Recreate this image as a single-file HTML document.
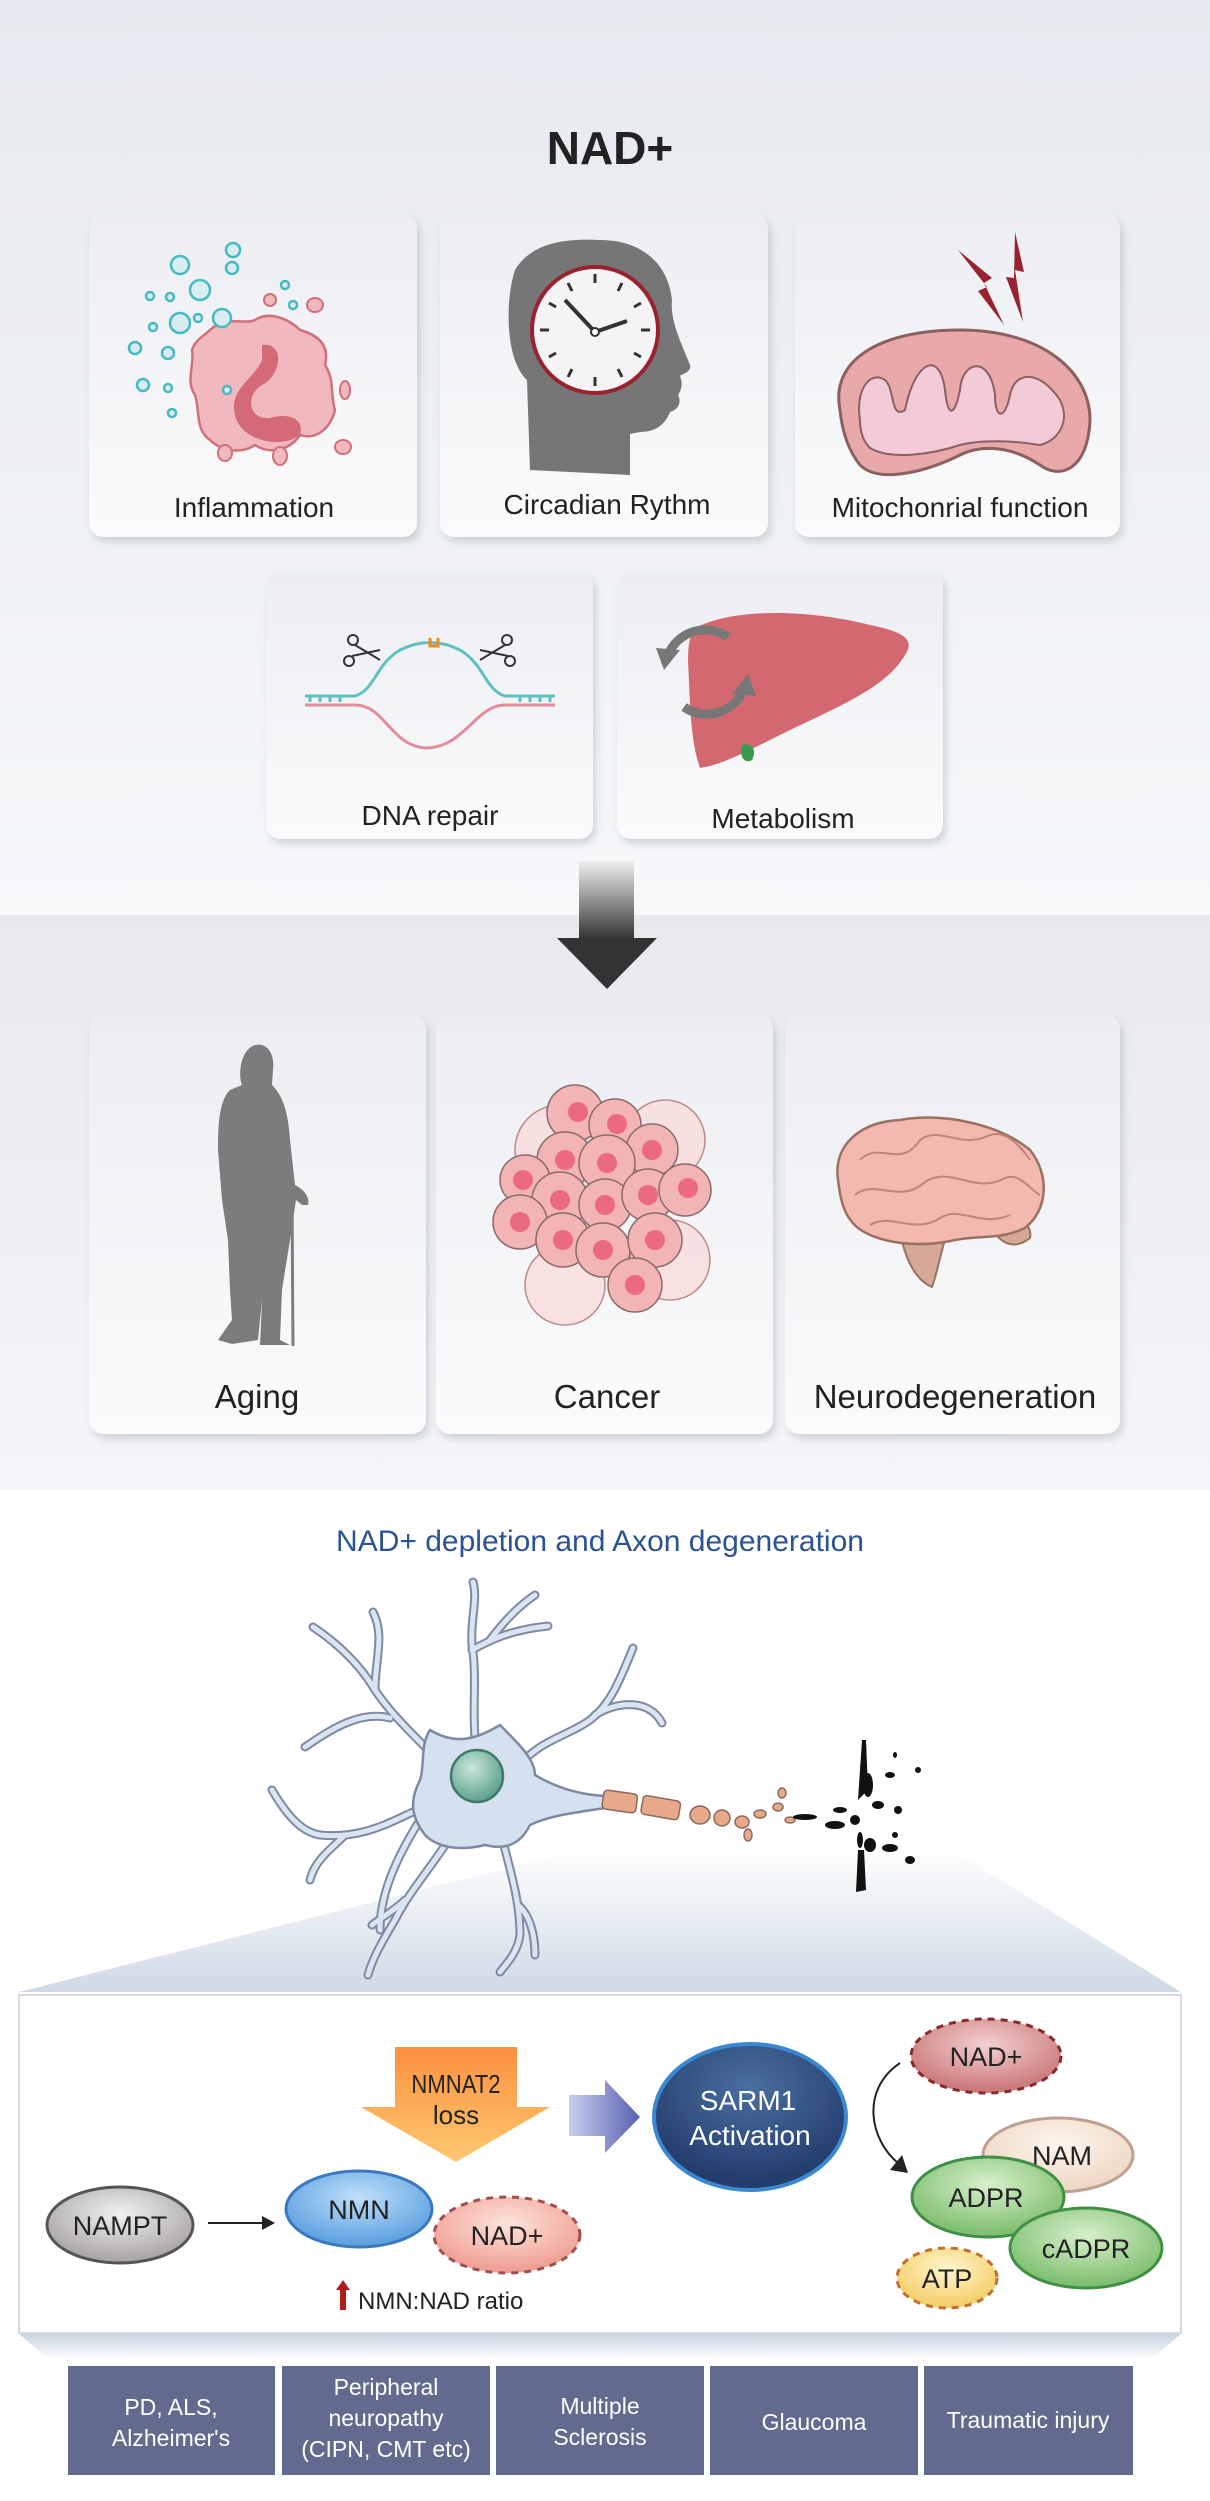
<!DOCTYPE html>
<html><head><meta charset="utf-8"><style>
html,body{margin:0;padding:0;background:#fff}
svg{display:block}
text{font-family:"Liberation Sans",Arial,sans-serif}
</style></head><body>
<svg width="1210" height="2501" viewBox="0 0 1210 2501" xmlns="http://www.w3.org/2000/svg">
<defs>
<linearGradient id="bg1" x1="0" y1="0" x2="0" y2="1"><stop offset="0" stop-color="#e6e9ef"/><stop offset="1" stop-color="#f6f8fa"/></linearGradient>
<linearGradient id="bg2" x1="0" y1="0" x2="0" y2="1"><stop offset="0" stop-color="#e7e9ee"/><stop offset="1" stop-color="#f5f6f9"/></linearGradient>
<linearGradient id="card" x1="0" y1="0" x2="0" y2="1"><stop offset="0" stop-color="#eceef2"/><stop offset="1" stop-color="#fbfbfc"/></linearGradient>
<linearGradient id="stem" x1="0" y1="0" x2="0" y2="1"><stop offset="0" stop-color="#f0f0f0"/><stop offset="1" stop-color="#333"/></linearGradient>
<linearGradient id="trap" x1="0" y1="0" x2="0" y2="1"><stop offset="0" stop-color="#ffffff"/><stop offset="1" stop-color="#cfdae6"/></linearGradient>
<linearGradient id="trap2" x1="0" y1="0" x2="0" y2="1"><stop offset="0" stop-color="#c8d4e0"/><stop offset="1" stop-color="#ffffff"/></linearGradient>
<linearGradient id="orng" x1="0" y1="0" x2="0" y2="1"><stop offset="0" stop-color="#fb9040"/><stop offset="1" stop-color="#fdc870"/></linearGradient>
<linearGradient id="blu" x1="0" y1="0" x2="1" y2="0"><stop offset="0" stop-color="#c8cdf0"/><stop offset="1" stop-color="#5860b0"/></linearGradient>
<radialGradient id="gGray" cx=".5" cy=".35" r=".6"><stop offset="0" stop-color="#f2f0f2"/><stop offset="1" stop-color="#aaa6aa"/></radialGradient>
<radialGradient id="gBlue" cx=".5" cy=".35" r=".6"><stop offset="0" stop-color="#bfe0fa"/><stop offset="1" stop-color="#5fa2e0"/></radialGradient>
<radialGradient id="gPink" cx=".5" cy=".35" r=".6"><stop offset="0" stop-color="#fde4dc"/><stop offset="1" stop-color="#f0a094"/></radialGradient>
<radialGradient id="gRed" cx=".5" cy=".35" r=".6"><stop offset="0" stop-color="#f3d0d0"/><stop offset="1" stop-color="#cc7a7c"/></radialGradient>
<radialGradient id="gNam" cx=".5" cy=".35" r=".6"><stop offset="0" stop-color="#fdf6ee"/><stop offset="1" stop-color="#eed8c4"/></radialGradient>
<radialGradient id="gGreen" cx=".5" cy=".35" r=".6"><stop offset="0" stop-color="#d8f0cc"/><stop offset="1" stop-color="#80c070"/></radialGradient>
<radialGradient id="gYel" cx=".5" cy=".35" r=".6"><stop offset="0" stop-color="#fff6d0"/><stop offset="1" stop-color="#f4cf6a"/></radialGradient>
<radialGradient id="gSarm" cx=".5" cy=".3" r=".65"><stop offset="0" stop-color="#4a6fa0"/><stop offset="1" stop-color="#233c6c"/></radialGradient>
<radialGradient id="gNuc" cx=".4" cy=".35" r=".65"><stop offset="0" stop-color="#c8e8dc"/><stop offset="1" stop-color="#5fa08c"/></radialGradient>
<filter id="sh" x="-10%" y="-10%" width="125%" height="125%"><feDropShadow dx="3" dy="5" stdDeviation="4" flood-color="#8890a0" flood-opacity=".35"/></filter>
</defs>

<rect x="0" y="0" width="1210" height="915" fill="url(#bg1)"/>
<rect x="0" y="915" width="1210" height="575" fill="url(#bg2)"/>

<text x="610" y="164" font-size="46" font-weight="bold" text-anchor="middle" fill="#222">NAD+</text>

<g filter="url(#sh)">
<rect x="89" y="214" width="328" height="323" rx="14" fill="url(#card)"/>
<rect x="440" y="214" width="328" height="323" rx="14" fill="url(#card)"/>
<rect x="795" y="214" width="325" height="323" rx="14" fill="url(#card)"/>
<rect x="266" y="571" width="327" height="268" rx="14" fill="url(#card)"/>
<rect x="617" y="571" width="326" height="268" rx="14" fill="url(#card)"/>
<rect x="89" y="1015" width="337" height="419" rx="14" fill="url(#card)"/>
<rect x="436" y="1015" width="337" height="419" rx="14" fill="url(#card)"/>
<rect x="785" y="1015" width="335" height="419" rx="14" fill="url(#card)"/>
</g>
<g font-size="28" text-anchor="middle" fill="#222">
<text x="254" y="517">Inflammation</text>
<text x="607" y="514">Circadian Rythm</text>
<text x="960" y="517">Mitochonrial function</text>
<text x="430" y="825">DNA repair</text>
<text x="783" y="828">Metabolism</text>
<text x="257" y="1408" font-size="33">Aging</text>
<text x="607" y="1408" font-size="33">Cancer</text>
<text x="955" y="1408" font-size="33">Neurodegeneration</text>
</g>

<!-- inflammation icon -->
<path d="M210,330 C225,315 245,325 255,320 C270,310 290,320 300,330 C318,335 330,345 325,365 C335,380 330,395 335,410 C330,430 315,440 300,435 C290,450 270,455 255,445 C240,455 220,450 210,440 C195,430 200,410 195,395 C185,380 195,365 192,350 C195,340 205,335 210,330Z" fill="#f1b8bd" stroke="#d0707a" stroke-width="2.5"/>
<path d="M262,345 C285,342 282,375 262,385 C245,395 248,420 270,418 C290,412 305,420 300,435 C280,450 240,440 235,415 C228,390 255,378 262,360Z" fill="#d46a78"/>
<g fill="#d9ecef" stroke="#46bac0" stroke-width="2.5">
<circle cx="180" cy="265" r="9"/><circle cx="233" cy="250" r="7"/><circle cx="232" cy="268" r="6"/><circle cx="200" cy="290" r="10"/>
<circle cx="150" cy="296" r="4"/><circle cx="170" cy="297" r="4"/><circle cx="180" cy="323" r="10"/><circle cx="222" cy="318" r="9"/>
<circle cx="198" cy="318" r="4"/><circle cx="153" cy="327" r="4"/><circle cx="135" cy="348" r="6"/><circle cx="168" cy="353" r="6"/>
<circle cx="143" cy="385" r="6"/><circle cx="168" cy="388" r="4"/><circle cx="172" cy="413" r="4"/><circle cx="285" cy="285" r="4"/><circle cx="293" cy="305" r="4"/><circle cx="227" cy="390" r="4"/>
</g>
<g fill="#f1b8bd" stroke="#d0707a" stroke-width="2"><ellipse cx="315" cy="305" rx="8" ry="7"/><circle cx="270" cy="300" r="6"/><ellipse cx="345" cy="390" rx="5" ry="9"/><ellipse cx="343" cy="447" rx="8" ry="7"/><ellipse cx="280" cy="456" rx="7" ry="9"/><ellipse cx="225" cy="453" rx="7" ry="8"/></g>

<!-- circadian head -->
<path d="M530,470 L527,380 C505,360 505,300 515,270 C530,245 560,238 600,240 C640,240 668,262 672,300 C670,320 680,340 690,365 C692,372 682,374 680,376 C684,385 680,392 678,395 C682,402 678,410 670,412 C665,425 655,432 640,432 L630,434 L630,475Z" fill="#767676"/>
<circle cx="595" cy="330" r="63" fill="#f4f4f6" stroke="#9a2230" stroke-width="4"/>
<g stroke="#333" stroke-width="3"><line x1="595" y1="274" x2="595" y2="283"/><line x1="595" y1="377" x2="595" y2="386"/><line x1="540" y1="330" x2="549" y2="330"/><line x1="641" y1="330" x2="650" y2="330"/><line x1="568" y1="283" x2="572" y2="291"/><line x1="622" y1="283" x2="618" y2="291"/><line x1="568" y1="377" x2="572" y2="369"/><line x1="622" y1="377" x2="618" y2="369"/><line x1="549" y1="303" x2="556" y2="307"/><line x1="641" y1="357" x2="634" y2="353"/><line x1="549" y1="357" x2="556" y2="353"/><line x1="641" y1="303" x2="634" y2="307"/></g>
<line x1="595" y1="332" x2="565" y2="300" stroke="#333" stroke-width="4"/><line x1="595" y1="332" x2="627" y2="321" stroke="#333" stroke-width="4"/><circle cx="595" cy="332" r="4" fill="#fff" stroke="#333" stroke-width="2"/>

<!-- mitochondria -->
<polygon points="958,250 992,278 984,283 1004,325 978,291 987,287" fill="#9a2230"/>
<polygon points="1015,232 1024,272 1015,270 1023,322 1006,277 1014,278" fill="#9a2230"/>
<path d="M840,410 C830,360 880,330 960,330 C1040,330 1090,370 1090,420 C1088,470 1060,480 1040,465 C1010,445 980,445 960,455 C930,470 880,485 860,465 C848,450 842,430 840,410Z" fill="#e9a8aa" stroke="#8a6060" stroke-width="3"/>
<path d="M860,420 C855,390 870,370 885,380 C895,388 890,420 905,410 C915,360 940,350 945,390 C948,420 955,415 960,390 C962,360 990,355 995,395 C995,420 1005,420 1010,395 C1015,370 1040,370 1060,400 C1070,420 1060,440 1040,445 C1010,440 980,440 960,445 C930,455 890,460 870,448 C862,440 860,430 860,420Z" fill="#f2cad8" stroke="#8a6060" stroke-width="2"/>

<!-- DNA -->
<g stroke-width="3" fill="none">
<path d="M305,696 L355,696 C375,690 375,665 400,650 C420,640 440,640 460,650 C485,665 485,690 505,696 L555,696" stroke="#5ec1c0"/>
<path d="M305,705 L355,705 C385,705 390,745 425,748 C465,748 475,705 505,705 L555,705" stroke="#e38c9c"/>
<g stroke="#5ec1c0"><line x1="310" y1="696" x2="310" y2="702"/><line x1="320" y1="696" x2="320" y2="702"/><line x1="330" y1="696" x2="330" y2="702"/><line x1="340" y1="696" x2="340" y2="702"/><line x1="520" y1="696" x2="520" y2="702"/><line x1="530" y1="696" x2="530" y2="702"/><line x1="540" y1="696" x2="540" y2="702"/><line x1="550" y1="696" x2="550" y2="702"/></g>
<path d="M430,638 L430,646 L438,646 L438,638" stroke="#f08a20"/>
</g>
<circle cx="353" cy="640" r="5" fill="none" stroke="#333" stroke-width="2"/><circle cx="349" cy="661" r="5" fill="none" stroke="#333" stroke-width="2"/><path d="M355,645 L380,660 M352,656 L380,650" stroke="#333" stroke-width="2"/>
<circle cx="507" cy="640" r="5" fill="none" stroke="#333" stroke-width="2"/><circle cx="510" cy="661" r="5" fill="none" stroke="#333" stroke-width="2"/><path d="M505,645 L480,660 M508,656 L480,650" stroke="#333" stroke-width="2"/>

<!-- liver -->
<path d="M695,628 C740,605 820,612 870,625 C905,632 915,640 905,655 C885,690 830,710 780,735 C740,755 720,765 700,768 C690,740 690,700 688,660 C688,645 690,635 695,628Z" fill="#d46870"/>
<path d="M742,745 C750,742 758,748 752,760 C745,765 738,755 742,745Z" fill="#3a9a50"/>
<g fill="none" stroke="#777" stroke-width="9">
<path d="M728,637 A40,40 0 0 0 668,655"/>
<path d="M684,707 A40,40 0 0 0 744,689"/>
</g>
<path d="M656,648 L680,650 L664,670Z" fill="#777"/><path d="M756,696 L732,694 L748,674Z" fill="#777"/>

<!-- big arrow -->
<rect x="579" y="861" width="55" height="78" fill="url(#stem)"/>
<path d="M557,938 L657,938 L607,989Z" fill="#333"/>

<!-- aging silhouette -->
<path d="M255,1045 C268,1042 275,1055 273,1070 L272,1085 C282,1095 288,1110 290,1140 L295,1185 C305,1190 310,1198 308,1205 L302,1205 L296,1200 L290,1240 L282,1290 L280,1340 L290,1345 L260,1345 L262,1300 L258,1340 L232,1344 L218,1340 L232,1320 L230,1290 L228,1240 L222,1200 L218,1150 C218,1120 220,1100 230,1090 L242,1085 C238,1075 240,1050 255,1045Z" fill="#7c7c7c"/>
<line x1="292" y1="1200" x2="293" y2="1346" stroke="#7c7c7c" stroke-width="3"/>

<!-- cancer cluster -->
<g stroke="#b07070" stroke-width="1.5">
<circle cx="560" cy="1150" r="45" fill="#f8dcdc" opacity=".8"/><circle cx="665" cy="1140" r="40" fill="#f8dcdc" opacity=".8"/><circle cx="670" cy="1260" r="40" fill="#f8dcdc" opacity=".8"/><circle cx="565" cy="1285" r="40" fill="#f8dcdc" opacity=".8"/>
</g>
<g fill="#f2b4b4" stroke="#8a6a6a" stroke-width="1.5">
<circle cx="575" cy="1113" r="28"/><circle cx="615" cy="1125" r="26"/><circle cx="652" cy="1150" r="26"/><circle cx="565" cy="1160" r="28"/><circle cx="607" cy="1163" r="28"/>
<circle cx="525" cy="1180" r="25"/><circle cx="560" cy="1200" r="28"/><circle cx="605" cy="1205" r="26"/><circle cx="648" cy="1195" r="26"/><circle cx="685" cy="1190" r="26"/>
<circle cx="520" cy="1222" r="27"/><circle cx="563" cy="1240" r="27"/><circle cx="603" cy="1250" r="27"/><circle cx="655" cy="1240" r="27"/><circle cx="635" cy="1285" r="27"/>
</g>
<g fill="#ec6a80"><circle cx="578" cy="1112" r="10"/><circle cx="617" cy="1124" r="10"/><circle cx="652" cy="1150" r="10"/><circle cx="565" cy="1160" r="10"/><circle cx="607" cy="1163" r="10"/><circle cx="523" cy="1180" r="10"/><circle cx="560" cy="1200" r="10"/><circle cx="605" cy="1205" r="10"/><circle cx="648" cy="1195" r="10"/><circle cx="688" cy="1188" r="10"/><circle cx="520" cy="1222" r="10"/><circle cx="563" cy="1240" r="10"/><circle cx="603" cy="1250" r="10"/><circle cx="655" cy="1240" r="10"/><circle cx="635" cy="1285" r="10"/></g>

<!-- brain -->
<path d="M900,1232 C905,1258 915,1280 932,1287 C938,1270 940,1255 945,1240Z" fill="#d6a896" stroke="#9a7060" stroke-width="2"/>
<path d="M990,1225 C1000,1245 1015,1250 1030,1238 C1032,1228 1025,1220 1015,1218Z" fill="#d6a896" stroke="#9a7060" stroke-width="2"/>
<path d="M838,1180 C833,1145 860,1122 900,1120 C945,1112 1000,1125 1030,1150 C1050,1175 1048,1210 1025,1228 C1000,1240 980,1235 955,1240 C920,1248 880,1244 858,1228 C842,1215 840,1195 838,1180Z" fill="#f3b8b0" stroke="#9a7060" stroke-width="2.5"/>
<g fill="none" stroke="#c0847a" stroke-width="2"><path d="M860,1160 C880,1140 900,1170 920,1140 C940,1125 960,1150 990,1135 C1005,1130 1020,1145 1030,1160"/><path d="M855,1195 C875,1178 900,1205 925,1182 C950,1165 975,1195 1005,1178 C1020,1172 1030,1190 1040,1195"/><path d="M870,1225 C890,1212 915,1235 940,1218 C960,1205 980,1228 1010,1215"/></g>

<!-- lower section -->
<text x="600" y="1551" font-size="30" text-anchor="middle" fill="#2b5391">NAD+ depletion and Axon degeneration</text>

<path d="M586,1848 L949,1848 L1181,1992 L19,1992Z" fill="url(#trap)"/>

<g fill="none" stroke-linecap="round" stroke-linejoin="round">
<g stroke="#7e8aa2" stroke-width="9">
<path d="M478,1760 C470,1720 478,1680 472,1645 C470,1620 478,1600 473,1582"/>
<path d="M472,1650 C490,1640 510,1630 548,1626"/><path d="M490,1640 C505,1620 520,1605 535,1595"/>
<path d="M445,1768 C420,1740 395,1720 375,1690 C360,1665 340,1645 313,1627"/>
<path d="M375,1690 C375,1660 385,1635 373,1612"/><path d="M390,1718 C360,1710 330,1730 305,1747"/>
<path d="M520,1765 C540,1740 570,1735 590,1720 C610,1705 620,1680 633,1648"/><path d="M595,1715 C620,1700 650,1700 662,1723"/>
<path d="M430,1805 C400,1815 370,1840 320,1835 C300,1832 285,1812 272,1790"/><path d="M345,1835 C330,1850 315,1860 310,1880"/>
<path d="M455,1830 C430,1870 410,1890 395,1920 C380,1945 372,1960 368,1975"/><path d="M405,1900 C395,1910 385,1915 372,1925"/>
<path d="M500,1830 C510,1870 520,1900 520,1935 C518,1950 510,1960 500,1972"/><path d="M518,1905 C530,1915 535,1935 535,1955"/>
<path d="M420,1820 C395,1860 380,1895 380,1930"/>
</g>
<g stroke="#dbe4f1" stroke-width="5">
<path d="M478,1760 C470,1720 478,1680 472,1645 C470,1620 478,1600 473,1582"/>
<path d="M472,1650 C490,1640 510,1630 548,1626"/><path d="M490,1640 C505,1620 520,1605 535,1595"/>
<path d="M445,1768 C420,1740 395,1720 375,1690 C360,1665 340,1645 313,1627"/>
<path d="M375,1690 C375,1660 385,1635 373,1612"/><path d="M390,1718 C360,1710 330,1730 305,1747"/>
<path d="M520,1765 C540,1740 570,1735 590,1720 C610,1705 620,1680 633,1648"/><path d="M595,1715 C620,1700 650,1700 662,1723"/>
<path d="M430,1805 C400,1815 370,1840 320,1835 C300,1832 285,1812 272,1790"/><path d="M345,1835 C330,1850 315,1860 310,1880"/>
<path d="M455,1830 C430,1870 410,1890 395,1920 C380,1945 372,1960 368,1975"/><path d="M405,1900 C395,1910 385,1915 372,1925"/>
<path d="M500,1830 C510,1870 520,1900 520,1935 C518,1950 510,1960 500,1972"/><path d="M518,1905 C530,1915 535,1935 535,1955"/>
<path d="M420,1820 C395,1860 380,1895 380,1930"/>
</g>
</g>
<path d="M430,1730 C455,1745 475,1740 500,1725 C520,1745 535,1760 535,1775 C560,1790 585,1795 605,1796 L605,1808 C580,1812 550,1815 530,1825 C520,1845 505,1850 485,1845 C465,1850 440,1850 425,1835 C410,1815 410,1800 420,1780 C425,1765 420,1745 430,1730Z" fill="#d6e1f0" stroke="#7e8aa2" stroke-width="2.5"/>
<circle cx="477" cy="1776" r="26" fill="url(#gNuc)" stroke="#3d7a6a" stroke-width="2.5"/>
<g stroke="#8a6a5a" stroke-width="1.5" fill="#e8a88a">
<rect x="603" y="1792" width="34" height="19" rx="4" transform="rotate(8 620 1800)"/>
<rect x="642" y="1798" width="38" height="19" rx="4" transform="rotate(10 660 1806)"/>
<ellipse cx="700" cy="1815" rx="10" ry="9"/><ellipse cx="722" cy="1818" rx="8" ry="8"/><ellipse cx="742" cy="1822" rx="7" ry="6"/>
<ellipse cx="760" cy="1814" rx="6" ry="4"/><ellipse cx="778" cy="1807" rx="5" ry="4"/><ellipse cx="790" cy="1820" rx="5" ry="3"/><ellipse cx="748" cy="1835" rx="4" ry="6"/><ellipse cx="782" cy="1793" rx="4" ry="5"/>
</g>
<g fill="#111">
<path d="M862,1740 L866,1740 L868,1790 L858,1800 Z"/><ellipse cx="868" cy="1785" rx="5" ry="12"/><ellipse cx="878" cy="1805" rx="6" ry="4"/><ellipse cx="890" cy="1775" rx="5" ry="3"/><ellipse cx="898" cy="1810" rx="4" ry="4"/>
<ellipse cx="840" cy="1810" rx="7" ry="3"/><ellipse cx="835" cy="1825" rx="10" ry="4"/><ellipse cx="855" cy="1820" rx="5" ry="5"/>
<ellipse cx="860" cy="1840" rx="3" ry="8"/><path d="M858,1850 L864,1850 L866,1890 L856,1892 Z"/><ellipse cx="870" cy="1845" rx="6" ry="7"/><ellipse cx="890" cy="1848" rx="8" ry="4"/><ellipse cx="910" cy="1860" rx="5" ry="4"/><ellipse cx="895" cy="1835" rx="3" ry="3"/><ellipse cx="895" cy="1755" rx="2" ry="3"/><ellipse cx="918" cy="1770" rx="3" ry="3"/><ellipse cx="805" cy="1817" rx="12" ry="3"/>
</g>

<rect x="19" y="1995" width="1162" height="338" fill="#fff" stroke="#c8cdd6" stroke-width="1.5"/>
<path d="M19,2334 L1181,2334 L1150,2360 L50,2360Z" fill="url(#trap2)"/>

<path d="M395,2047 L517,2047 L517,2107 L550,2107 L456,2162 L361,2107 L395,2107Z" fill="url(#orng)"/>
<text x="456" y="2093" font-size="26" text-anchor="middle" fill="#222" transform="translate(456 0) scale(0.85 1) translate(-456 0)">NMNAT2</text>
<text x="456" y="2124" font-size="26" text-anchor="middle" fill="#222">loss</text>

<path d="M569,2095 L605,2095 L605,2080 L640,2117 L605,2153 L605,2136 L569,2136Z" fill="url(#blu)"/>

<ellipse cx="120" cy="2225" rx="73" ry="38" fill="url(#gGray)" stroke="#555" stroke-width="3"/>
<text x="120" y="2235" font-size="27" text-anchor="middle" fill="#222">NAMPT</text>
<line x1="208" y1="2223" x2="265" y2="2223" stroke="#222" stroke-width="2"/><path d="M262,2216 L275,2223 L262,2230Z" fill="#222"/>

<ellipse cx="359" cy="2209" rx="73" ry="38" fill="url(#gBlue)" stroke="#3a78c0" stroke-width="3"/>
<text x="359" y="2219" font-size="27" text-anchor="middle" fill="#222">NMN</text>
<ellipse cx="507" cy="2235" rx="73" ry="38" fill="url(#gPink)" stroke="#a05050" stroke-width="3" stroke-dasharray="7 6"/>
<text x="507" y="2245" font-size="27" text-anchor="middle" fill="#222">NAD+</text>

<path d="M343,2280 L350,2290 L346,2290 L346,2310 L340,2310 L340,2290 L336,2290Z" fill="#b01c1c"/>
<text x="358" y="2309" font-size="24" fill="#222">NMN:NAD ratio</text>

<ellipse cx="750" cy="2117" rx="96" ry="73" fill="url(#gSarm)" stroke="#3a88d0" stroke-width="4"/>
<text x="748" y="2110" font-size="28" text-anchor="middle" fill="#fff">SARM1</text>
<text x="750" y="2145" font-size="28" text-anchor="middle" fill="#fff">Activation</text>

<ellipse cx="986" cy="2056" rx="75" ry="37" fill="url(#gRed)" stroke="#8a2a2a" stroke-width="3" stroke-dasharray="7 6"/>
<text x="986" y="2066" font-size="27" text-anchor="middle" fill="#222">NAD+</text>
<path d="M900,2063 C860,2090 870,2140 898,2163" fill="none" stroke="#222" stroke-width="2"/>
<path d="M890,2170 L908,2173 L902,2155Z" fill="#222"/>

<ellipse cx="1058" cy="2155" rx="75" ry="37" fill="url(#gNam)" stroke="#c0a090" stroke-width="3"/>
<text x="1062" y="2165" font-size="27" text-anchor="middle" fill="#222">NAM</text>
<ellipse cx="988" cy="2197" rx="76" ry="40" fill="url(#gGreen)" stroke="#3f8f45" stroke-width="3"/>
<text x="986" y="2207" font-size="27" text-anchor="middle" fill="#222">ADPR</text>
<ellipse cx="1086" cy="2248" rx="76" ry="40" fill="url(#gGreen)" stroke="#3f8f45" stroke-width="3"/>
<text x="1086" y="2258" font-size="27" text-anchor="middle" fill="#222">cADPR</text>
<ellipse cx="947" cy="2278" rx="50" ry="30" fill="url(#gYel)" stroke="#c07030" stroke-width="3" stroke-dasharray="7 6"/>
<text x="947" y="2288" font-size="27" text-anchor="middle" fill="#222">ATP</text>

<g fill="#626a8e">
<rect x="68" y="2366" width="207" height="109"/><rect x="282" y="2366" width="208" height="109"/><rect x="496" y="2366" width="208" height="109"/><rect x="710" y="2366" width="208" height="109"/><rect x="924" y="2366" width="209" height="109"/>
</g>
<g font-size="23" text-anchor="middle" fill="#fff">
<text x="171" y="2415">PD, ALS,</text><text x="171" y="2446">Alzheimer's</text>
<text x="386" y="2395">Peripheral</text><text x="386" y="2426">neuropathy</text><text x="386" y="2457">(CIPN, CMT etc)</text>
<text x="600" y="2414">Multiple</text><text x="600" y="2445">Sclerosis</text>
<text x="814" y="2430">Glaucoma</text>
<text x="1028" y="2428">Traumatic injury</text>
</g>
</svg>
</body></html>
